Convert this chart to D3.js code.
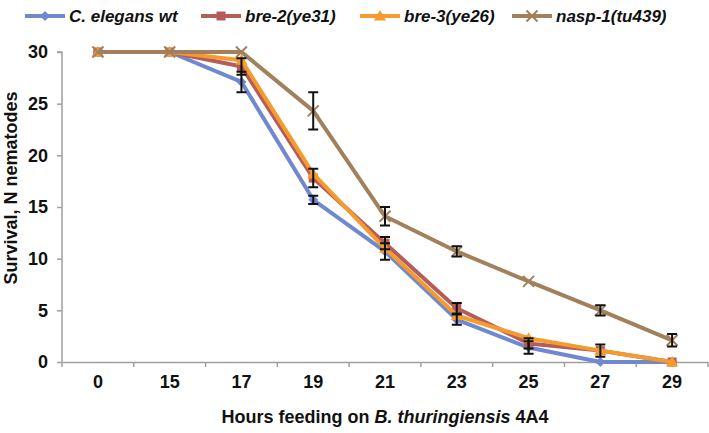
<!DOCTYPE html>
<html><head><meta charset="utf-8">
<script src="https://cdn.jsdelivr.net/npm/d3@7"></script>
<style>body{margin:0;background:#fff}svg{display:block}text{font-family:"Liberation Sans",Arial,sans-serif;font-weight:bold}</style>
</head><body><svg id="c" width="709" height="433"></svg>
<script>
const categories = ["0","15","17","19","21","23","25","27","29"];
const yTicks = [0,5,10,15,20,25,30];
const seriesNames = ["C. elegans wt","bre-2(ye31)","bre-3(ye26)","nasp-1(tu439)"];
const wtValues    = [30,30,27.1,15.7,10.7,4.1,1.4,0,0];
const wtErr       = [0,0,1.0,0.4,0.8,0.5,0.6,0,0];
const bre2Values  = [30,30,28.6,17.8,11.5,5.2,1.8,1.1,0];
const bre2Err     = [0,0,0.8,0.9,0.6,0.5,0.5,0.6,0];
const bre3Values  = [30,30,29.2,18.2,11.0,4.5,2.3,1.1,0];
const bre3Err     = [0,0,0,0,0,0,0,0,0];
const naspValues  = [30,30,30,24.3,14.1,10.7,7.8,5.0,2.1];
const naspErr     = [0,0,0,1.8,0.9,0.5,0,0.5,0.6];
const colors  = ["#7088cf","#b55c5b","#f59a2c","#a3805c"];
const markers = ["diamond","square","triangle","x"];

const svg = d3.select("#c");
const x = d3.scaleBand().domain(categories).range([62,708]);
const y = d3.scaleLinear().domain([0,30]).range([362,52]);

// axes
const yAxis = d3.axisLeft(y).tickValues(yTicks).tickSize(5).tickPadding(9);
const gy = svg.append("g").attr("transform","translate(62,0)").call(yAxis);
gy.select(".domain").attr("stroke","#a0a0a0").attr("stroke-width",1.5).attr("d","M-5,52H0V362");
gy.selectAll(".tick line").attr("stroke","#a0a0a0").attr("stroke-width",1.5);
gy.selectAll("text").attr("font-size",18).attr("fill","#111");

const xAxis = d3.axisBottom(x).tickSize(0).tickPadding(13);
const gx = svg.append("g").attr("transform","translate(0,362)").call(xAxis);
gx.select(".domain").attr("stroke","#a0a0a0").attr("stroke-width",1.5);
gx.selectAll(".tick line").remove();
gx.selectAll("text").attr("font-size",18).attr("fill","#111");
// band boundary ticks
const bounds = categories.map(c=>x(c)).concat([x(categories[categories.length-1])+x.bandwidth()]);
gx.selectAll(".btick").data(bounds).enter().append("line")
  .attr("x1",d=>d).attr("x2",d=>d).attr("y1",0).attr("y2",5)
  .attr("stroke","#a0a0a0").attr("stroke-width",1.5);

// axis titles
svg.append("text").attr("x",385).attr("y",423).attr("text-anchor","middle").attr("font-size",18).attr("fill","#111")
  .html('Hours feeding on <tspan font-style="italic">B. thuringiensis</tspan> 4A4');
svg.append("text").attr("transform","translate(17,188) rotate(-90)").attr("text-anchor","middle").attr("font-size",18).attr("fill","#111")
  .text("Survival, N nematodes");

const series = [
  {name:seriesNames[0], v:wtValues, e:wtErr},
  {name:seriesNames[1], v:bre2Values, e:bre2Err},
  {name:seriesNames[2], v:bre3Values, e:bre3Err},
  {name:seriesNames[3], v:naspValues, e:naspErr}
];
const cx = c => x(c) + x.bandwidth()/2;

function drawMarker(g, type, color, px, py){
  if(type==="diamond") g.append("path").attr("d",`M${px},${py-5}L${px+5},${py}L${px},${py+5}L${px-5},${py}Z`).attr("fill",color);
  else if(type==="square") g.append("rect").attr("x",px-4.5).attr("y",py-4.5).attr("width",9).attr("height",9).attr("fill",color);
  else if(type==="triangle") g.append("path").attr("d",`M${px},${py-6}L${px+6},${py+4.5}L${px-6},${py+4.5}Z`).attr("fill",color);
  else g.append("path").attr("d",`M${px-5.5},${py-5.5}L${px+5.5},${py+5.5}M${px-5.5},${py+5.5}L${px+5.5},${py-5.5}`).attr("stroke",color).attr("stroke-width",2).attr("fill","none");
}

const line = d3.line().x((d,i)=>cx(categories[i])).y(d=>y(d));
series.forEach((s,si)=>{
  const g = svg.append("g");
  g.append("path").attr("d",line(s.v)).attr("fill","none").attr("stroke",colors[si]).attr("stroke-width",4).attr("stroke-linejoin","round");
  s.v.forEach((v,i)=>drawMarker(g, markers[si], colors[si], cx(categories[i]), y(v)));
});
// error bars
series.forEach((s,si)=>{
  const g = svg.append("g");
  s.v.forEach((v,i)=>{
    const e = s.e[i]; if(!e) return;
    const px = cx(categories[i]);
    g.append("path").attr("d",`M${px},${y(v+e)}V${y(v-e)}M${px-5},${y(v+e)}H${px+5}M${px-5},${y(v-e)}H${px+5}`)
     .attr("stroke","#111").attr("stroke-width",2).attr("fill","none");
  });
});

// legend
const legX = [25,201,360,512];
const lg = svg.append("g");
series.forEach((s,si)=>{
  const lx = legX[si], ly = 16;
  lg.append("line").attr("x1",lx).attr("x2",lx+40).attr("y1",ly).attr("y2",ly).attr("stroke",colors[si]).attr("stroke-width",4);
  drawMarker(lg, markers[si], colors[si], lx+20, ly);
  lg.append("text").attr("x",lx+44).attr("y",ly+6).attr("font-size",17).attr("font-style","italic").attr("fill","#111").text(s.name);
});
</script></body></html>
